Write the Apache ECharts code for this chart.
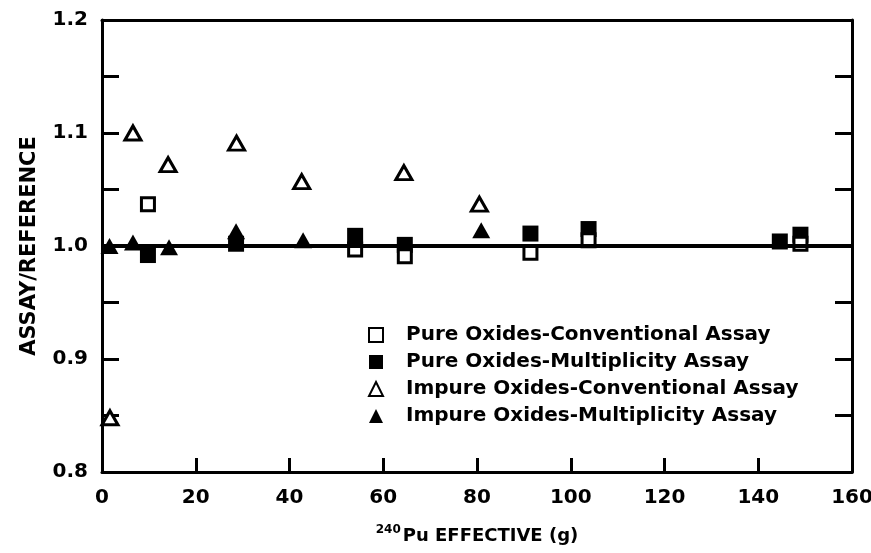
<!DOCTYPE html>
<html>
<head>
<meta charset="utf-8">
<script src="https://cdn.jsdelivr.net/npm/echarts@6/dist/echarts.min.js"></script>
<style>
  html, body { margin: 0; padding: 0; background: #fff; }
  #chart { width: 871px; height: 553px; }
</style>
</head>
<body>
<div id="chart"></div>
<script>
// 240Pu effective mass (g) and assay/reference ratio for each sample group
const pureConventional = [
  [9.8, 1.037], [54.0, 0.997], [64.6, 0.991], [91.4, 0.994],
  [103.8, 1.005], [149.0, 1.002]
];
const pureMultiplicity = [
  [9.8, 0.992], [28.6, 1.002], [54.0, 1.009], [64.6, 1.001],
  [91.4, 1.011], [103.8, 1.015], [144.6, 1.004], [149.0, 1.010]
];
const impureConventional = [
  [1.7, 0.848], [6.6, 1.100], [14.1, 1.072], [28.7, 1.091],
  [42.6, 1.057], [64.4, 1.065], [80.5, 1.037]
];
const impureMultiplicity = [
  [1.6, 1.000], [6.6, 1.003], [14.3, 0.999], [28.6, 1.013],
  [42.9, 1.005], [80.9, 1.014]
];
const seriesNames = [
  'Pure Oxides-Conventional Assay',
  'Pure Oxides-Multiplicity Assay',
  'Impure Oxides-Conventional Assay',
  'Impure Oxides-Multiplicity Assay'
];
const referenceLevel = 1.0;
const xRange = [0, 160];
const yRange = [0.8, 1.2];

const FONT = '"DejaVu Sans", "Liberation Sans", Arial, sans-serif';
const INK = '#000';

const chart = echarts.init(document.getElementById('chart'), null, { renderer: 'canvas' });

const baseAxisLine = { show: true, onZero: false, lineStyle: { color: INK, width: 3 } };

function yLabel(v) {
  return Math.round(v * 100) % 10 === 0 ? v.toFixed(1) : '';
}

chart.setOption({
  animation: false,
  backgroundColor: '#fff',
  grid: { left: 102, width: 750, top: 20, height: 452, containLabel: false, outerBoundsMode: 'none' },
  legend: {
    orient: 'vertical',
    left: 368,
    top: 325,
    padding: 0,
    itemWidth: 14,
    itemHeight: 14,
    itemGap: 7,
    selectedMode: false,
    data: seriesNames,
    textStyle: { fontFamily: FONT, fontWeight: 'bold', fontSize: 20, color: INK, lineHeight: 20, padding: [0, 0, 0, 18] }
  },
  xAxis: [
    {
      type: 'value',
      position: 'bottom',
      min: xRange[0], max: xRange[1], interval: 20,
      axisLine: baseAxisLine,
      axisTick: { show: true, inside: true, length: 14, lineStyle: { color: INK, width: 3 } },
      splitLine: { show: false },
      axisLabel: { color: INK, fontFamily: FONT, fontWeight: 'bold', fontSize: 20, margin: 16 },
      name: '{sup|240}{b|Pu EFFECTIVE (g)}',
      nameLocation: 'middle',
      nameGap: 52,
      nameTextStyle: {
        rich: {
          sup: { fontFamily: FONT, fontWeight: 'bold', fontSize: 12, color: INK, verticalAlign: 'top', lineHeight: 12, padding: [0, 2, 0, 0] },
          b: { fontFamily: FONT, fontWeight: 'bold', fontSize: 18, color: INK, lineHeight: 24 }
        }
      }
    },
    {
      type: 'value',
      position: 'top',
      min: xRange[0], max: xRange[1], interval: 20,
      axisLine: baseAxisLine,
      axisTick: { show: false },
      axisLabel: { show: false },
      splitLine: { show: false }
    }
  ],
  yAxis: [
    {
      type: 'value',
      position: 'left',
      min: yRange[0], max: yRange[1], interval: 0.05,
      axisLine: baseAxisLine,
      axisTick: { show: true, inside: true, length: 17, lineStyle: { color: INK, width: 3 } },
      splitLine: { show: false },
      axisLabel: { color: INK, fontFamily: FONT, fontWeight: 'bold', fontSize: 20, margin: 14, formatter: yLabel, showMinLabel: true, showMaxLabel: true },
      name: 'ASSAY/REFERENCE',
      nameLocation: 'middle',
      nameGap: 62,
      nameRotate: 90,
      nameTextStyle: { fontFamily: FONT, fontWeight: 'bold', fontSize: 21, color: INK }
    },
    {
      type: 'value',
      position: 'right',
      min: yRange[0], max: yRange[1], interval: 0.05,
      axisLine: baseAxisLine,
      axisTick: { show: true, inside: true, length: 17, lineStyle: { color: INK, width: 3 } },
      axisLabel: { show: false },
      splitLine: { show: false }
    }
  ],
  series: [
    {
      name: seriesNames[1],
      type: 'scatter',
      symbol: 'rect',
      symbolSize: 16,
      itemStyle: { color: INK, opacity: 1 },
      data: pureMultiplicity,
      z: 3,
      markLine: {
        silent: true,
        symbol: 'none',
        label: { show: false },
        lineStyle: { color: INK, width: 4, type: 'solid' },
        data: [{ yAxis: referenceLevel }],
        animation: false
      }
    },
    {
      name: seriesNames[0],
      type: 'scatter',
      symbol: 'rect',
      symbolSize: 13,
      itemStyle: { color: '#fff', borderColor: INK, borderWidth: 3, opacity: 1 },
      data: pureConventional,
      z: 4
    },
    {
      name: seriesNames[2],
      type: 'scatter',
      symbol: 'triangle',
      symbolSize: [16, 14],
      itemStyle: { color: '#fff', borderColor: INK, borderWidth: 3, opacity: 1 },
      data: impureConventional,
      z: 4
    },
    {
      name: seriesNames[3],
      type: 'scatter',
      symbol: 'triangle',
      symbolSize: [18, 16],
      itemStyle: { color: INK, opacity: 1 },
      data: impureMultiplicity,
      z: 5
    }
  ]
});
</script>
</body>
</html>
